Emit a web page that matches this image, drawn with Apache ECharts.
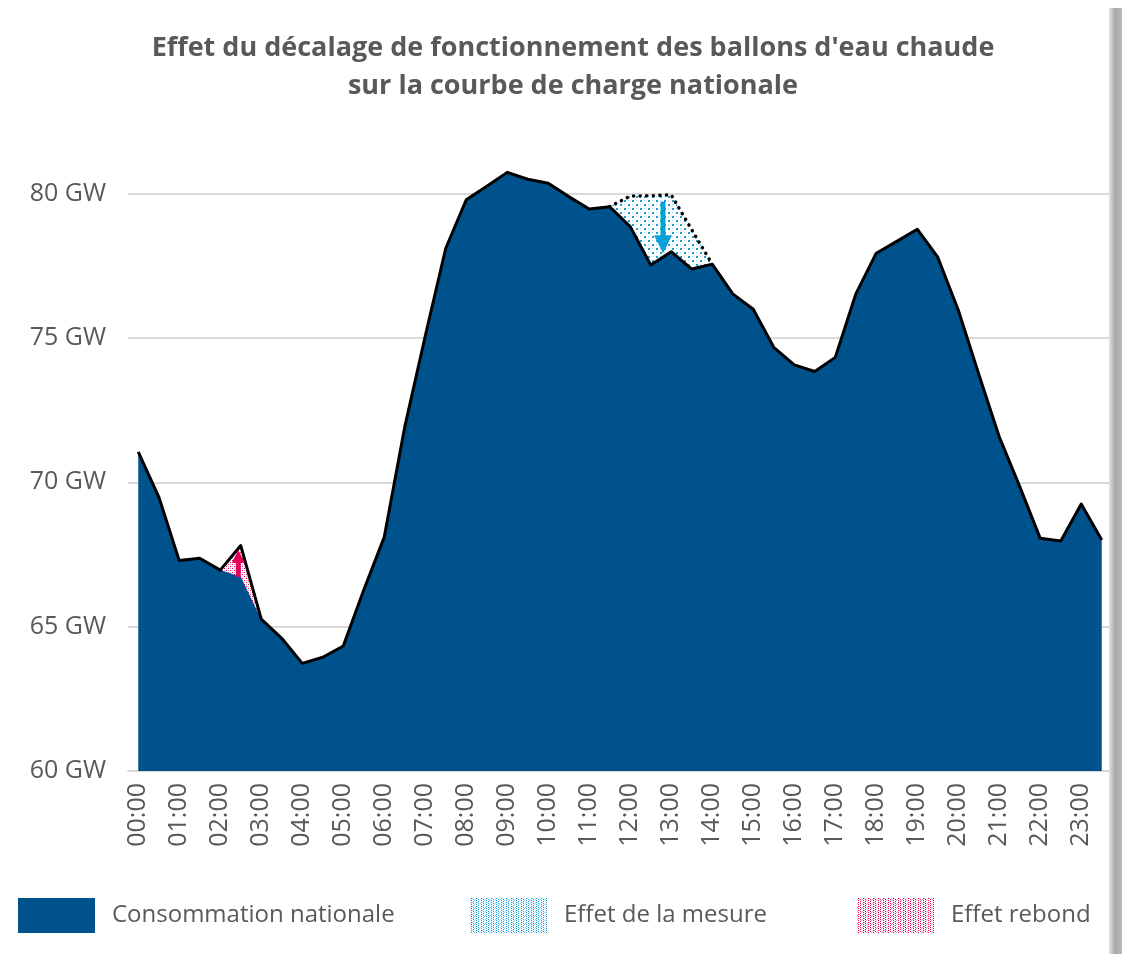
<!DOCTYPE html>
<html>
<head>
<meta charset="utf-8">
<script src="https://cdn.jsdelivr.net/npm/echarts@6/dist/echarts.min.js"></script>
<style>
  html, body { margin: 0; padding: 0; background: #fff; }
  #wrap { position: relative; width: 1122px; height: 954px; }
  #chart { width: 1122px; height: 954px; }
  #edge { position: absolute; left: 1109px; top: 8px; width: 13px; height: 946px;
          background: linear-gradient(to right, #e4e4e4, #a8a8a8 45%, #b8b8b8); }
</style>
</head>
<body>
<div id="wrap"><div id="chart"></div><div id="edge"></div></div>
<script>
const heures = [
  "00:00","00:30","01:00","01:30","02:00","02:30","03:00","03:30",
  "04:00","04:30","05:00","05:30","06:00","06:30","07:00","07:30",
  "08:00","08:30","09:00","09:30","10:00","10:30","11:00","11:30",
  "12:00","12:30","13:00","13:30","14:00","14:30","15:00","15:30",
  "16:00","16:30","17:00","17:30","18:00","18:30","19:00","19:30",
  "20:00","20:30","21:00","21:30","22:00","22:30","23:00","23:30"
];

// GW, par demi-heure
const consommation = [
  71.06, 69.50, 67.29, 67.37, 66.96, 66.73, 65.26, 64.60,
  63.73, 63.94, 64.33, 66.27, 68.11, 71.92, 75.07, 78.11,
  79.79, 80.26, 80.74, 80.50, 80.36, 79.90, 79.47, 79.55,
  78.86, 77.53, 77.99, 77.39, 77.56, 76.53, 76.00, 74.68,
  74.07, 73.84, 74.33, 76.52, 77.94, 78.35, 78.77, 77.80,
  75.97, 73.75, 71.58, 69.85, 68.06, 67.97, 69.25, 68.00
];

// surplus de consommation (report des ballons)
const effetRebond = [
  null, null, null, null, 0, 1.08, 0, null,
  null, null, null, null, null, null, null, null,
  null, null, null, null, null, null, null, null,
  null, null, null, null, null, null, null, null,
  null, null, null, null, null, null, null, null,
  null, null, null, null, null, null, null, null
];

// consommation évitée à midi
const effetMesure = [
  null, null, null, null, null, null, null, null,
  null, null, null, null, null, null, null, null,
  null, null, null, null, null, null, null, 0,
  1.06, 2.40, 1.97, 1.36, 0, null, null, null,
  null, null, null, null, null, null, null, null,
  null, null, null, null, null, null, null, null
];

const yTicks = [60, 65, 70, 75, 80];

// flèches [x (index demi-heure), GW] : départ, centre de la pointe
const flecheMesure = [[25.6, 79.73], [25.6, 78.25]];
const flecheRebond = [[4.88, 66.73], [4.88, 67.43]];

const total = consommation.map((v, i) => effetRebond[i] ? +(v + effetRebond[i]).toFixed(2) : v);
const haut_rebond = effetRebond.map((d, i) => d === null ? null : +(consommation[i] + d).toFixed(2));
const haut_mesure = effetMesure.map((d, i) => d === null ? null : +(consommation[i] + d).toFixed(2));

function pattern(size, bg, dots) {
  const c = document.createElement("canvas");
  c.width = size[0]; c.height = size[1];
  const ctx = c.getContext("2d");
  ctx.fillStyle = bg;
  ctx.fillRect(0, 0, size[0], size[1]);
  dots.forEach(([x, y, w, col]) => { ctx.fillStyle = col; ctx.fillRect(x, y, w, w); });
  return { image: c, repeat: "repeat" };
}

const bleuMotif = pattern([8, 8], "#ffffff", [
  [0, 0, 2, "#1a9fd9"], [4, 4, 2, "#1a9fd9"], [4, 0, 1, "#a6dbf2"], [0, 4, 1, "#a6dbf2"]
]);
const roseMotif = pattern([4, 4], "#ffffff", [
  [0, 0, 1, "#e2005a"], [2, 2, 1, "#e2005a"], [2, 0, 1, "#f3a6c4"], [0, 2, 1, "#f3a6c4"]
]);
const bleuLegende = pattern([5, 4], "#ffffff", [
  [1, 0, 1, "#1a9fd9"], [1, 2, 1, "#1a9fd9"], [3, 1, 1, "#1a9fd9"], [3, 3, 1, "#1a9fd9"],
  [0, 1, 1, "#a6dbf2"], [2, 0, 1, "#a6dbf2"], [4, 2, 1, "#a6dbf2"]
]);
const roseLegende = pattern([5, 4], "#ffffff", [
  [1, 0, 1, "#e2005a"], [1, 2, 1, "#e2005a"], [3, 1, 1, "#e2005a"], [3, 3, 1, "#e2005a"],
  [0, 1, 1, "#f3a6c4"], [2, 0, 1, "#f3a6c4"], [4, 2, 1, "#f3a6c4"]
]);

const font = "'Open Sans', sans-serif";
const gris = "#595959";

const legendBase = {
  top: 898, padding: 0, icon: "rect", itemWidth: 77, itemHeight: 35,
  selectedMode: false,
  textStyle: { fontSize: 24, color: gris, fontFamily: font, padding: [0, 0, 0, 12] }
};

function fleche(coords, couleur, taille, rotation) {
  return {
    type: "line", xAxisIndex: 1, yAxisIndex: 0, z: 5,
    data: [
      { value: coords[0], symbol: "none" },
      { value: coords[1], symbol: "triangle", symbolSize: taille, symbolRotate: rotation }
    ],
    showSymbol: true,
    lineStyle: { color: couleur, width: 5 },
    itemStyle: { color: couleur }
  };
}

const chart = echarts.init(document.getElementById("chart"));
chart.setOption({
  animation: false,
  backgroundColor: "#ffffff",
  title: {
    text: "Effet du décalage de fonctionnement des ballons d'eau chaude\nsur la courbe de charge nationale",
    left: 573, textAlign: "center", top: 29, padding: 0,
    textStyle: { fontSize: 27, fontWeight: "bold", color: gris, lineHeight: 38, fontFamily: font }
  },
  legend: [
    Object.assign({}, legendBase, { left: 18, data: [{ name: "Consommation nationale", itemStyle: { color: "#00528c" } }] }),
    Object.assign({}, legendBase, { left: 470, data: [{ name: "Effet de la mesure", itemStyle: { color: bleuLegende } }] }),
    Object.assign({}, legendBase, { left: 857, data: [{ name: "Effet rebond", itemStyle: { color: roseLegende } }] })
  ],
  grid: { left: 128, right: 10, top: 136, bottom: 183 },
  xAxis: [{
    type: "category",
    data: heures,
    boundaryGap: true,
    axisLine: { lineStyle: { color: "#d9d9d9", width: 2 } },
    axisTick: { interval: 0, length: 6, lineStyle: { color: "#d9d9d9", width: 2 } },
    axisLabel: { interval: 1, rotate: 90, fontSize: 25, color: gris, fontFamily: font, margin: 12 }
  }, {
    type: "value", min: -0.5, max: 47.5, show: false
  }],
  yAxis: {
    type: "value",
    min: 60, max: 82, interval: 5,
    axisLine: { show: false },
    axisTick: { show: false },
    axisLabel: {
      fontSize: 25, color: gris, fontFamily: font, margin: 22, showMaxLabel: false,
      formatter: v => yTicks.includes(v) ? v + " GW" : ""
    },
    splitLine: { showMaxLine: false, lineStyle: { color: "#d9d9d9", width: 2 } }
  },
  series: [
    {
      name: "Effet de la mesure", type: "line", data: haut_mesure,
      symbol: "none", lineStyle: { width: 0 }, itemStyle: { color: bleuMotif },
      areaStyle: { color: bleuMotif, opacity: 1 }
    },
    {
      name: "Effet rebond", type: "line", data: haut_rebond,
      symbol: "none", lineStyle: { width: 0 }, itemStyle: { color: roseMotif },
      areaStyle: { color: roseMotif, opacity: 1 }
    },
    {
      name: "Consommation nationale", type: "line", data: consommation,
      symbol: "none", lineStyle: { width: 0 }, itemStyle: { color: "#00528c" },
      areaStyle: { color: "#00528c", opacity: 1 }
    },
    {
      name: "total", type: "line", data: total, symbol: "none",
      lineStyle: { color: "#000000", width: 3, join: "round" }
    },
    {
      name: "sans mesure", type: "line", data: haut_mesure, symbol: "none",
      lineStyle: { color: "#000000", width: 3.5, type: [0.1, 6.5], cap: "round" }
    },
    fleche(flecheMesure, "#0aa0d8", 18, 180),
    fleche(flecheRebond, "#e2005a", 13, 0)
  ]
});
</script>
</body>
</html>
